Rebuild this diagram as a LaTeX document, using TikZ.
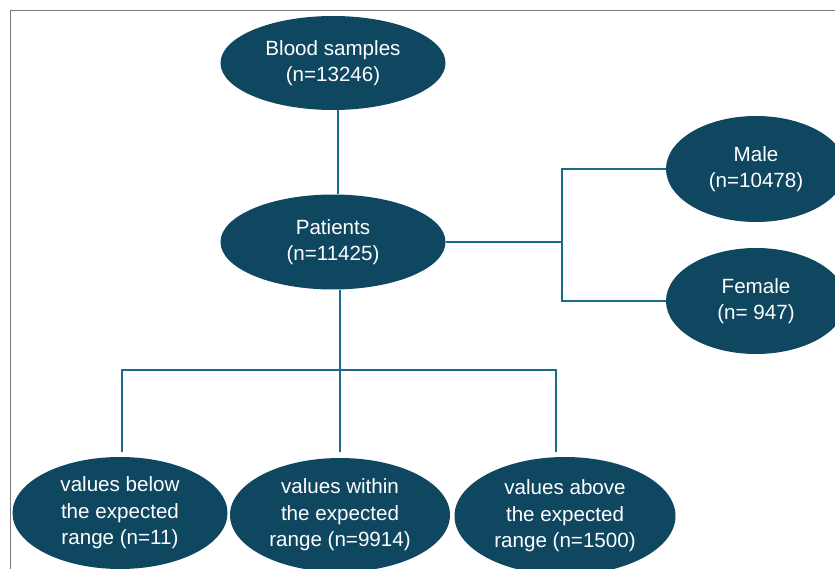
\documentclass[tikz,border=0pt]{standalone}
\usepackage{fontspec}
\setmainfont{Liberation Sans}
\usetikzlibrary{shapes.geometric}
\definecolor{nodefill}{HTML}{0F4761}
\definecolor{linecol}{HTML}{1A6A8C}
\definecolor{framecol}{HTML}{7A7A7A}
\tikzset{
  oval/.style={ellipse, fill=nodefill, draw=none, inner sep=0pt, text=white,
    align=center, font=\fontsize{20.6}{26.5}\selectfont},
  link/.style={draw=linecol, line width=1.5pt},
}
\begin{document}
\begin{tikzpicture}[x=1pt,y=-1pt]
\clip (0,0) rectangle (835,569);
\fill[white] (0,0) rectangle (835,569);
\draw[framecol, line width=1pt] (10,600) -- (10,10.5) -- (900,10.5);

\node[oval, minimum width=225pt, minimum height=94pt] (bs) at (333,63) {Blood samples\\(n=13246)};
\node[oval, minimum width=225pt, minimum height=95pt] (pt) at (333,242) {Patients\\(n=11425)};
\node[oval, minimum width=180pt, minimum height=106pt] (ma) at (756,169) {Male\\(n=10478)};
\node[oval, minimum width=180pt, minimum height=106pt] (fe) at (756,301) {Female\\(n=~947)};
\node[oval, minimum width=215pt, minimum height=112pt] (lo) at (120,513) {values below\\the expected\\range (n=11)};
\node[oval, minimum width=220pt, minimum height=114pt] (mid) at (340,515) {values within\\the expected\\range (n=9914)};
\node[oval, minimum width=221pt, minimum height=118pt] (hi) at (565,516) {values above\\the expected\\range (n=1500)};

\coordinate (split) at (562,242);
\coordinate (hub) at (340,370);

\draw[link] ([xshift=5pt]bs.south) -- ([xshift=5pt]pt.north);
\draw[link] (pt.east) -- (split);
\draw[link] (ma.west) -| (split) |- (fe.west);
\draw[link] ([xshift=7pt]pt.south) -- (hub);
\draw[link] ([xshift=2pt,yshift=5pt]lo.north) |- (hub) -| ([xshift=-9pt,yshift=5pt]hi.north);
\draw[link] (hub) -- ([yshift=6pt]mid.north);
\end{tikzpicture}
\end{document}
